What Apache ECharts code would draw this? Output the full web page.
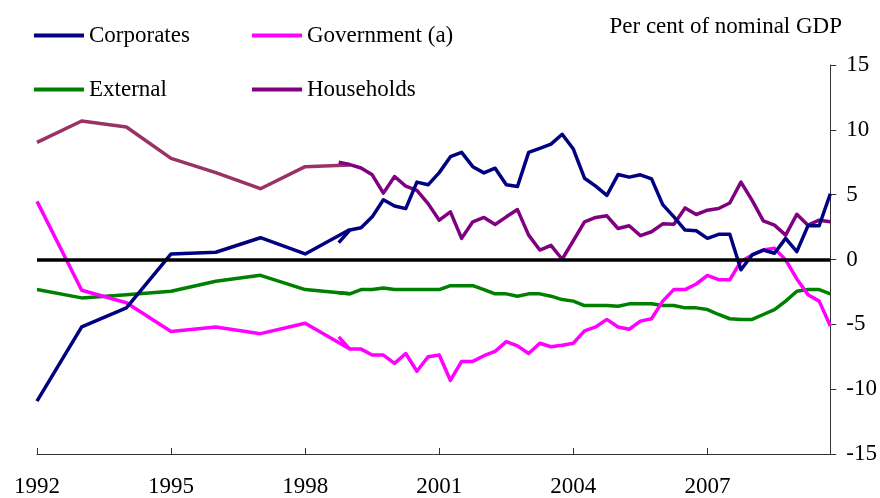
<!DOCTYPE html>
<html>
<head>
<meta charset="utf-8">
<script src="https://cdn.jsdelivr.net/npm/echarts@6/dist/echarts.min.js"></script>
<style>html,body{margin:0;padding:0;background:#fff}#c{width:880px;height:498px}</style>
</head>
<body>
<div id="c"></div>
<script>
// Annual observations
var annualYears = [1992, 1993, 1994, 1995, 1996, 1997, 1998, 1999];
var corporatesAnnual = [-10.92, -5.20, -3.73, 0.43, 0.56, 1.68, 0.43, 2.32];
var governmentAnnual = [4.48, -2.37, -3.34, -5.56, -5.20, -5.72, -4.92, -6.91];
var externalAnnual = [-2.32, -2.96, -2.71, -2.45, -1.68, -1.22, -2.32, -2.65];
var householdsAnnual = [9.03, 10.68, 10.22, 7.80, 6.70, 5.46, 7.16, 7.29];

// Quarterly observations (decimal year positions)
var quarters = [1998.75,
  1999.00, 1999.25, 1999.50, 1999.75,
  2000.00, 2000.25, 2000.50, 2000.75,
  2001.00, 2001.25, 2001.50, 2001.75,
  2002.00, 2002.25, 2002.50, 2002.75,
  2003.00, 2003.25, 2003.50, 2003.75,
  2004.00, 2004.25, 2004.50, 2004.75,
  2005.00, 2005.25, 2005.50, 2005.75,
  2006.00, 2006.25, 2006.50, 2006.75,
  2007.00, 2007.25, 2007.50, 2007.75,
  2008.00, 2008.25, 2008.50, 2008.75,
  2009.00, 2009.25, 2009.50, 2009.75];
var corporatesQ = [1.30,
  2.27, 2.45, 3.29, 4.61,
  4.13, 3.92, 5.97, 5.76,
  6.70, 7.93, 8.26, 7.16,
  6.68, 7.04, 5.76, 5.63,
  8.26, 8.57, 8.90, 9.66,
  8.52, 6.27, 5.66, 4.94,
  6.55, 6.35, 6.53, 6.22,
  4.23, 3.29, 2.27, 2.22,
  1.63, 1.94, 1.94, -0.79,
  0.35, 0.73, 0.48, 1.63,
  0.61, 2.60, 2.60, 5.07];
var governmentQ = [-5.97,
  -6.91, -6.91, -7.37, -7.37,
  -8.01, -7.25, -8.62, -7.50,
  -7.37, -9.33, -7.86, -7.86,
  -7.42, -7.09, -6.33, -6.66,
  -7.25, -6.46, -6.73, -6.61,
  -6.46, -5.51, -5.20, -4.62,
  -5.20, -5.38, -4.75, -4.57,
  -3.21, -2.32, -2.32, -1.89,
  -1.23, -1.56, -1.56, -0.15,
  0.35, 0.73, 0.86, -0.03,
  -1.50, -2.71, -3.21, -5.13];
var externalQ = [-2.57,
  -2.65, -2.32, -2.32, -2.20,
  -2.32, -2.32, -2.32, -2.32,
  -2.32, -2.02, -2.02, -2.02,
  -2.32, -2.65, -2.65, -2.83,
  -2.65, -2.65, -2.83, -3.09,
  -3.21, -3.55, -3.55, -3.55,
  -3.60, -3.42, -3.42, -3.42,
  -3.55, -3.55, -3.73, -3.73,
  -3.86, -4.24, -4.57, -4.62,
  -4.62, -4.24, -3.86, -3.21,
  -2.45, -2.32, -2.32, -2.65];
var householdsQ = [7.50,
  7.32, 7.06, 6.53, 5.12,
  6.40, 5.66, 5.33, 4.31,
  3.03, 3.67, 1.63, 2.91,
  3.24, 2.70, 3.29, 3.85,
  1.88, 0.73, 1.09, 0.02,
  1.45, 2.91, 3.24, 3.37,
  2.39, 2.60, 1.84, 2.14,
  2.75, 2.72, 3.98, 3.47,
  3.80, 3.93, 4.36, 5.97,
  4.56, 2.98, 2.65, 1.88,
  3.49, 2.65, 3.03, 2.91];

var xTickYears = [1992, 1995, 1998, 2001, 2004, 2007];
var yTicks = [-15, -10, -5, 0, 5, 10, 15];

function pairs(xs, ys) { return xs.map(function (x, i) { return [x, ys[i]]; }); }

var FONT = '"Liberation Serif", "Times New Roman", serif';
var chart = echarts.init(document.getElementById('c'), null, { renderer: 'canvas' });

function line(name, color, xs, ys, extra) {
  var s = {
    name: name, type: 'line', data: pairs(xs, ys), showSymbol: false, symbol: 'none',
    lineStyle: { color: color, width: 3.5, join: 'round' }, itemStyle: { color: color },
    animation: false, silent: true
  };
  if (extra) Object.assign(s, extra);
  return s;
}

function legendItem(name, left, top) {
  return {
    data: [name], left: left, top: top, padding: 0, icon: 'rect',
    itemWidth: 50, itemHeight: 4, selectedMode: false,
    textStyle: { fontFamily: FONT, fontSize: 23, color: '#000' }
  };
}

chart.setOption({
  animation: false,
  backgroundColor: '#fff',
  title: {
    text: 'Per cent of nominal GDP', right: 38, top: 15, padding: 0,
    textStyle: { fontFamily: FONT, fontSize: 23, fontWeight: 'normal', color: '#000' }
  },
  legend: [
    legendItem('Corporates', 34, 24),
    legendItem('Government (a)', 252, 24),
    legendItem('External', 34, 78),
    legendItem('Households', 252, 78)
  ],
  grid: { left: 37, right: 48, top: 65, bottom: 42, containLabel: false },
  xAxis: {
    type: 'value', min: 1992, max: 2009.75, interval: 3,
    axisLine: { show: true, onZero: false, lineStyle: { color: '#333', width: 1 } },
    axisTick: { show: true, inside: true, length: 6, lineStyle: { color: '#333' } },
    axisLabel: {
      fontFamily: FONT, fontSize: 23, color: '#000', margin: 21, showMaxLabel: false,
      formatter: function (v) { return xTickYears.indexOf(v) >= 0 ? String(v) : ''; }
    },
    splitLine: { show: false }
  },
  yAxis: {
    type: 'value', position: 'right', min: yTicks[0], max: yTicks[yTicks.length - 1], interval: 5,
    axisLine: { show: true, lineStyle: { color: '#333', width: 1 } },
    axisTick: { show: true, inside: false, length: 6, lineStyle: { color: '#333' } },
    axisLabel: { fontFamily: FONT, fontSize: 23, color: '#000', margin: 16 },
    splitLine: { show: false }
  },
  series: [
    line('Households annual', '#993366', annualYears, householdsAnnual),
    line('Households', '#800080', quarters, householdsQ),
    line('External annual', '#008000', annualYears, externalAnnual),
    line('External', '#008000', quarters, externalQ),
    line('Government annual', '#FF00FF', annualYears, governmentAnnual),
    line('Government (a)', '#FF00FF', quarters, governmentQ),
    line('Corporates annual', '#000080', annualYears, corporatesAnnual, {
      markLine: {
        silent: true, symbol: 'none', label: { show: false },
        lineStyle: { color: '#000', width: 3.5, type: 'solid' },
        data: [{ yAxis: 0 }]
      }
    }),
    line('Corporates', '#000080', quarters, corporatesQ)
  ]
});
</script>
</body>
</html>
